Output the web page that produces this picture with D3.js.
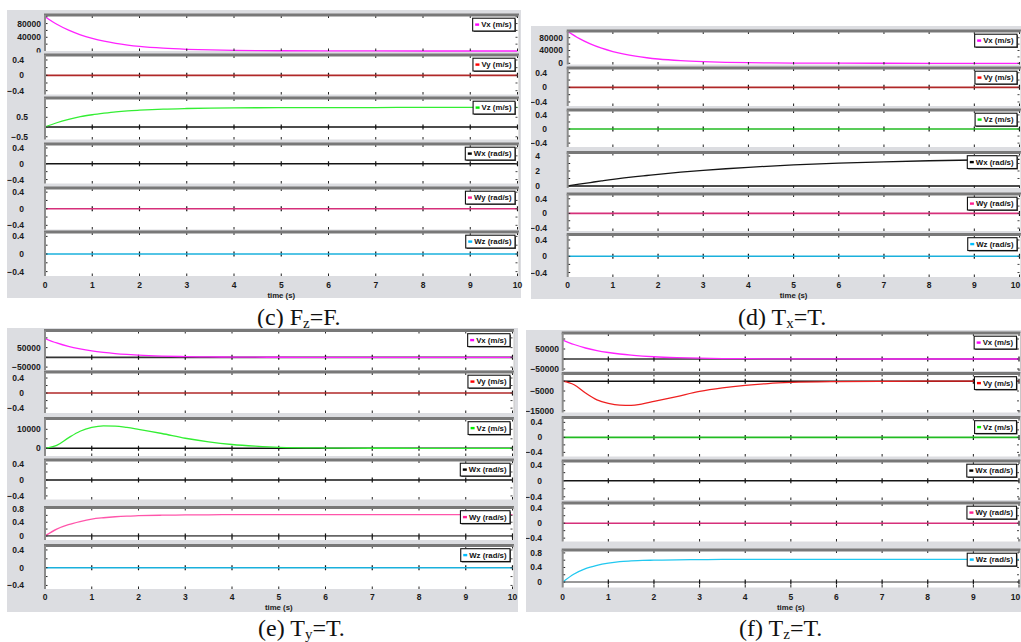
<!DOCTYPE html>
<html><head><meta charset="utf-8">
<script src="https://cdn.jsdelivr.net/npm/d3@7"></script>
<style>body{margin:0;background:#fff;} svg{display:block;}</style>
</head><body>
<svg id="chart" width="1021" height="642"></svg>
<script>
// ---------- data ----------
const timeTicks = [0,1,2,3,4,5,6,7,8,9,10];
const timeSamples = [0,0.25,0.5,0.75,1,1.25,1.5,1.75,2,2.5,3,3.5,4,4.5,5,6,7,8,9,10];
const zeroSeries = [0,0,0,0,0,0,0,0,0,0,0,0,0,0,0,0,0,0,0,0];
const vxDecay = [100000,77900,60700,47200,36800,28600,22300,17400,13500,8200,5000,3000,1800,1100,700,250,90,35,12,0];
const vxE = [97000,74000,56000,43000,33000,25500,19500,15000,11500,6800,4000,2400,1400,800,500,180,60,20,5,0];
const vxF = [95000,72500,55000,42000,32500,25000,19200,14800,11300,6700,3900,2300,1400,800,480,170,60,20,5,0];
const vzC = [0,0.22,0.39,0.53,0.63,0.71,0.78,0.83,0.865,0.92,0.95,0.97,0.982,0.99,0.994,0.998,1,1.01,1.01,1.01];
const wxD = [0,0.24,0.46,0.68,0.89,1.07,1.24,1.40,1.56,1.84,2.09,2.30,2.49,2.66,2.81,3.05,3.23,3.37,3.47,3.55];
const vzE = [0,1500,5500,9000,11000,11800,11700,11000,10000,7800,5300,3400,2000,1100,500,150,40,10,0,0];
const wyE = [0,0.2,0.33,0.42,0.49,0.53,0.56,0.58,0.59,0.605,0.612,0.617,0.62,0.62,0.62,0.62,0.62,0.62,0.62,0.62];
const vyF = [0,-1800,-6000,-9500,-11300,-12200,-12300,-11500,-10300,-7800,-5200,-3400,-2100,-1200,-650,-200,-60,-15,-3,0];
const wzF = [0,0.22,0.37,0.46,0.52,0.56,0.58,0.595,0.60,0.61,0.615,0.62,0.62,0.62,0.62,0.62,0.62,0.62,0.62,0.62];

// tick label sets
const ticksV100k = [0,40000,80000];
const ticksPM04 = [-0.4,0,0.4];
const ticksVzC = [-0.5,0.5];
const ticksWxD = [0,2,4];
const ticksPM50k = [-50000,50000];
const ticksVzE = [0,10000];
const ticks008 = [0,0.4,0.8];
const ticksVyF = [-15000,-5000];

// legend names
const names = {vx:'Vx (m/s)', vy:'Vy (m/s)', vz:'Vz (m/s)', wx:'Wx (rad/s)', wy:'Wy (rad/s)', wz:'Wz (rad/s)'};
const legendColors = {vx:'#ff00ff', vy:'#ff0000', vz:'#00ee00', wx:'#000000', wy:'#ff2090', wz:'#00bfff'};

// ---------- layout ----------
const panels = [
 {bg:[7,10,521,298], x0:45, x10:517.5, xLabelY:287.5, timeY:297.5,
  cap:{x:257,y:325,pre:'(c) F',sub:'z',post:'=F.'},
  subs:[
   {top:15,bottom:51,domain:[0,105000],ticks:ticksV100k,lr:41,data:vxDecay,color:'#ff22ff',key:'vx'},
   {top:55,bottom:94.5,domain:[-0.5,0.53],ticks:ticksPM04,lr:24,data:zeroSeries,color:'#b02828',key:'vy'},
   {top:98,bottom:139.5,domain:[-0.64,1.49],ticks:ticksVzC,lr:28,data:vzC,color:'#33ee33',ref:'#111',key:'vz'},
   {top:144,bottom:183.5,domain:[-0.5,0.5],ticks:ticksPM04,lr:24,data:zeroSeries,color:'#151515',key:'wx'},
   {top:188,bottom:229.5,domain:[-0.5,0.5],ticks:ticksPM04,lr:24,data:zeroSeries,color:'#d6307a',key:'wy'},
   {top:232,bottom:276,domain:[-0.5,0.5],ticks:ticksPM04,lr:24,data:zeroSeries,color:'#1ab0dc',key:'wz'}
  ]},
 {bg:[531,26,1021,299], x0:567.7, x10:1019.5, xLabelY:287.5, timeY:297.5,
  cap:{x:738,y:325,pre:'(d) T',sub:'x',post:'=T.'},
  subs:[
   {top:31,bottom:64.5,domain:[-3750,101000],ticks:ticksV100k,lr:563,data:vxDecay,color:'#ff22ff',key:'vx'},
   {top:68,bottom:106,domain:[-0.51,0.53],ticks:ticksPM04,lr:547,data:zeroSeries,color:'#b02828',key:'vy'},
   {top:110,bottom:147,domain:[-0.51,0.54],ticks:ticksPM04,lr:547,data:zeroSeries,color:'#22bb22',key:'vz'},
   {top:152.5,bottom:188,domain:[-0.27,4.47],ticks:ticksWxD,lr:540,data:wxD,color:'#151515',ref:'#111',key:'wx'},
   {top:194,bottom:231,domain:[-0.48,0.53],ticks:ticksPM04,lr:547,data:zeroSeries,color:'#d6307a',key:'wy'},
   {top:234.5,bottom:277,domain:[-0.51,0.535],ticks:ticksPM04,lr:547,data:zeroSeries,color:'#1ab0dc',key:'wz'}
  ]},
 {bg:[7,328,518,612], x0:45, x10:512.5, xLabelY:600, timeY:610,
  cap:{x:258,y:636,pre:'(e) T',sub:'y',post:'=T.'},
  subs:[
   {top:330.5,bottom:370,domain:[-65000,138000],ticks:ticksPM50k,lr:40.7,data:vxE,color:'#ff22ff',ref:'#333',key:'vx'},
   {top:372,bottom:413,domain:[-0.53,0.56],ticks:ticksPM04,lr:24,data:zeroSeries,color:'#b02828',key:'vy'},
   {top:418.5,bottom:456,domain:[-4050,15700],ticks:ticksVzE,lr:40.7,data:vzE,color:'#33ee33',ref:'#111',key:'vz'},
   {top:460,bottom:499.5,domain:[-0.49,0.5],ticks:ticksPM04,lr:24,data:zeroSeries,color:'#151515',key:'wx'},
   {top:507.5,bottom:540,domain:[-0.12,0.83],ticks:ticks008,lr:24,data:wyE,color:'#ff55aa',ref:'#666',key:'wy'},
   {top:545.5,bottom:589,domain:[-0.48,0.5],ticks:ticksPM04,lr:24,data:zeroSeries,color:'#1ab0dc',key:'wz'}
  ]},
 {bg:[526,330,1021,612], x0:562.7, x10:1019, xLabelY:599.5, timeY:610,
  cap:{x:739,y:636,pre:'(f) T',sub:'z',post:'=T.'},
  subs:[
   {top:333,bottom:371,domain:[-60000,130000],ticks:ticksPM50k,lr:559,data:vxF,color:'#ff22ff',ref:'#333',key:'vx'},
   {top:373.5,bottom:412.5,domain:[-15900,3900],ticks:ticksVyF,lr:554,data:vyF,color:'#ee2020',ref:'#111',key:'vy'},
   {top:417.5,bottom:456.5,domain:[-0.51,0.53],ticks:ticksPM04,lr:542.3,data:zeroSeries,color:'#22bb22',key:'vz'},
   {top:461,bottom:500,domain:[-0.48,0.49],ticks:ticksPM04,lr:542,data:zeroSeries,color:'#151515',key:'wx'},
   {top:503,bottom:541.5,domain:[-0.49,0.54],ticks:ticksPM04,lr:542,data:zeroSeries,color:'#d6307a',key:'wy'},
   {top:550,bottom:587.5,domain:[-0.15,0.88],ticks:ticks008,lr:542,data:wzF,color:'#22c8f0',ref:'#777',key:'wz'}
  ]}
];

const FONT = '"Liberation Sans", Arial, sans-serif';
const W = 1021;
const svg = d3.select('#chart');
const defs = svg.append('defs');

panels.forEach((p, pi) => {
  const g = svg.append('g');
  g.append('rect').attr('x', p.bg[0]).attr('y', p.bg[1])
    .attr('width', p.bg[2]-p.bg[0]).attr('height', p.bg[3]-p.bg[1]).attr('fill', '#dcdde1');
  const x = d3.scaleLinear().domain([0,10]).range([p.x0, p.x10]);

  p.subs.forEach((s, si) => {
    const y = d3.scaleLinear().domain(s.domain).range([s.bottom, s.top]);
    const sg = g.append('g');
    sg.append('rect').attr('x', p.x0).attr('y', s.top).attr('width', p.x10 - p.x0 + 1.5)
      .attr('height', s.bottom - s.top).attr('fill', '#fff');

    const cid = `clip${pi}_${si}`;
    defs.append('clipPath').attr('id', cid).append('rect')
      .attr('x', p.x0).attr('y', s.top).attr('width', p.x10 - p.x0 + 1.5).attr('height', s.bottom - s.top + 1);
    const inner = sg.append('g').attr('clip-path', `url(#${cid})`);

    const line = d3.line().x((d,i) => x(timeSamples[i])).y(d => y(d)).curve(d3.curveMonotoneX);

    if (s.ref) {
      inner.append('path').datum(zeroSeries).attr('d', line).attr('fill','none')
        .attr('stroke', s.ref).attr('stroke-width', 1.6);
    }
    const y0 = y(0);
    if (y0 > s.top + 3 && y0 < s.bottom - 3) {
      inner.selectAll(null).data(timeTicks.slice(1)).enter().append('line')
        .attr('x1', d => x(d)).attr('x2', d => x(d)).attr('y1', y0 - 2.5).attr('y2', y0 + 2.5)
        .attr('stroke', '#111').attr('stroke-width', 1.2);
    }
    inner.append('path').datum(s.data).attr('d', line).attr('fill','none')
      .attr('stroke', s.color).attr('stroke-width', s.data === zeroSeries ? 1.6 : 1.3);

    sg.selectAll(null).data(timeTicks.slice(1)).enter().append('line')
      .attr('x1', d => x(d)).attr('x2', d => x(d)).attr('y1', s.top).attr('y2', s.top + 3)
      .attr('stroke', '#222').attr('stroke-width', 1);
    sg.selectAll(null).data(timeTicks.slice(1)).enter().append('line')
      .attr('x1', d => x(d)).attr('x2', d => x(d)).attr('y1', s.bottom - 2.5).attr('y2', s.bottom)
      .attr('stroke', '#222').attr('stroke-width', 1);

    const t = s.ticks;
    const step = (t.length > 1 ? (t[1] - t[0]) : 1) / 2;
    const lo = Math.min(s.domain[0], s.domain[1]), hi = Math.max(s.domain[0], s.domain[1]);
    const minor = d3.range(Math.ceil(lo / step) * step, hi, step).filter(v => {
      const py = y(v); return py > s.top + 1.5 && py < s.bottom - 0.5;
    });
    sg.selectAll(null).data(minor).enter().append('line')
      .attr('x1', p.x0).attr('x2', p.x0 + 2.5).attr('y1', d => y(d)).attr('y2', d => y(d))
      .attr('stroke', '#222').attr('stroke-width', 1);
    sg.selectAll(null).data(minor).enter().append('line')
      .attr('x1', p.x10 - 2).attr('x2', p.x10).attr('y1', d => y(d)).attr('y2', d => y(d))
      .attr('stroke', '#444').attr('stroke-width', 1);

    sg.append('line').attr('x1', p.x0 - 1).attr('x2', p.x10 + 1.5).attr('y1', s.top).attr('y2', s.top)
      .attr('stroke', '#787878').attr('stroke-width', 2.8);
    sg.append('line').attr('x1', p.x0).attr('x2', p.x0).attr('y1', s.top).attr('y2', s.bottom)
      .attr('stroke', '#8c8c8c').attr('stroke-width', 2);
    sg.append('line').attr('x1', p.x10 + 1.5).attr('x2', p.x10 + 1.5).attr('y1', s.top).attr('y2', s.bottom)
      .attr('stroke', '#c8c8c8').attr('stroke-width', 1);

    const lid = `lclip${pi}_${si}`;
    defs.append('clipPath').attr('id', lid).append('rect')
      .attr('x', p.bg[0]).attr('y', s.top - 6).attr('width', p.x0 - p.bg[0]).attr('height', s.bottom - s.top + 7.5);
    sg.append('g').attr('clip-path', `url(#${lid})`)
      .selectAll('text').data(t).enter().append('text')
      .attr('x', s.lr).attr('y', d => y(d)).attr('dy', '0.35em')
      .attr('text-anchor', 'end').attr('font-family', FONT).attr('font-weight', 'bold')
      .attr('font-size', 8.5).attr('fill', '#1a1a1a').text(d => d3.format('')(d));

    const lg = sg.append('g');
    const txt = lg.append('text').attr('font-family', FONT).attr('font-weight', 'bold')
      .attr('font-size', 7.8).attr('fill', '#111').text(names[s.key]);
    const tw = txt.node().getComputedTextLength();
    const bw = tw + 12, bh = 12.8;
    const bx = p.x10 - 2.5 - bw, by = s.top + 3.2;
    lg.insert('rect', 'text').attr('x', bx + 1).attr('y', by + 1).attr('width', bw).attr('height', bh).attr('fill', '#555');
    lg.insert('rect', 'text').attr('x', bx).attr('y', by).attr('width', bw).attr('height', bh)
      .attr('fill', '#fff').attr('stroke', '#111').attr('stroke-width', 1.1);
    lg.append('line').attr('x1', bx + 2.5).attr('x2', bx + 6.5).attr('y1', by + bh/2).attr('y2', by + bh/2)
      .attr('stroke', legendColors[s.key]).attr('stroke-width', 2.4);
    txt.attr('x', bx + 8.5).attr('y', by + bh/2).attr('dy', '0.35em');
  });

  // x tick labels (keep the last one inside the picture)
  g.selectAll(null).data(timeTicks).enter().append('text')
    .attr('x', d => Math.min(x(d), W - 5.5)).attr('y', p.xLabelY).attr('text-anchor', 'middle')
    .attr('font-family', FONT).attr('font-weight', 'bold').attr('font-size', 8.5).attr('fill', '#1a1a1a')
    .text(d => d);
  g.append('text').attr('x', x(5)).attr('y', p.timeY).attr('text-anchor', 'middle')
    .attr('font-family', FONT).attr('font-weight', 'bold').attr('font-size', 7.8).attr('fill', '#1a1a1a')
    .text('time (s)');

  const cap = svg.append('text').attr('x', p.cap.x).attr('y', p.cap.y)
    .attr('font-family', '"Liberation Serif", "Times New Roman", serif').attr('font-size', 24).attr('fill', '#111');
  cap.append('tspan').text(p.cap.pre);
  cap.append('tspan').attr('font-size', 15).attr('dy', 2.5).text(p.cap.sub);
  cap.append('tspan').attr('dy', -2.5).text(p.cap.post);
});
</script>
</body></html>
